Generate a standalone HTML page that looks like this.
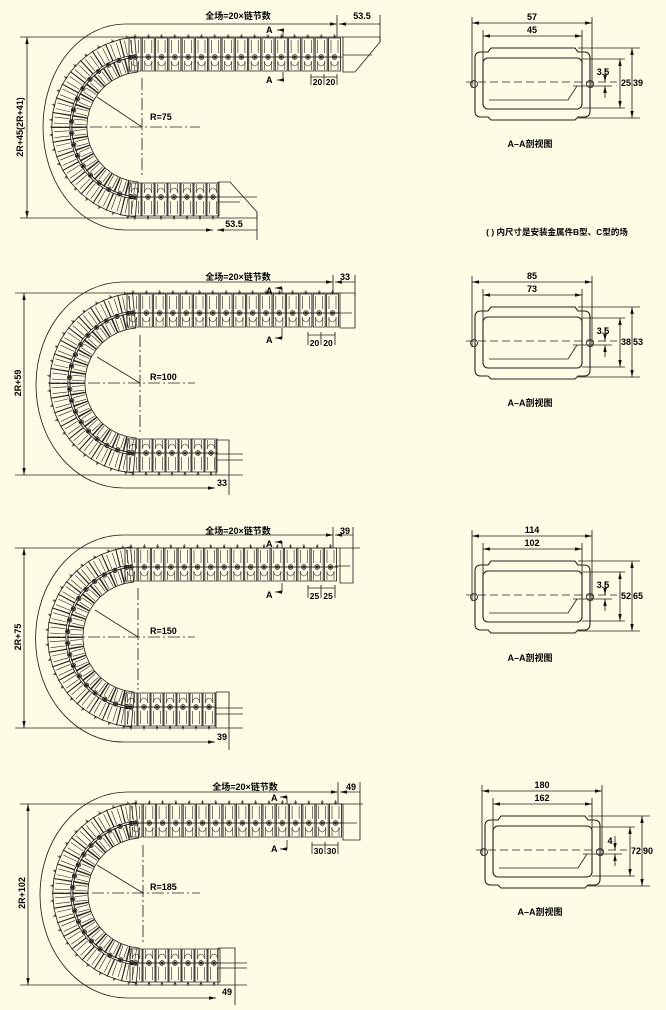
<!DOCTYPE html>
<html><head><meta charset="utf-8"><style>
html,body{margin:0;padding:0;background:#FFFCE5;}
svg{display:block;}
text{font-family:"Liberation Sans","Noto Sans CJK SC",sans-serif;font-size:9px;fill:#000;font-weight:bold;}
</style></head><body>
<svg width="666" height="1010" viewBox="0 0 666 1010" xmlns="http://www.w3.org/2000/svg" xmlns:xlink="http://www.w3.org/1999/xlink">
<defs>
<marker id="a" viewBox="0 0 8 4" refX="8" refY="2" markerWidth="7" markerHeight="3.5" orient="auto-start-reverse" markerUnits="userSpaceOnUse"><path d="M0,0 L8,2 L0,4z" fill="#111"/></marker>
<g id="lk">
 <path d="M-6,1 H6 V34 H-6 Z"/>
 <path d="M-3.5,3 V16 M3.5,3 V16 M-3.5,24 V33 M3.5,24 V33" stroke-width="0.6"/>
 <path d="M-6,20 H6" stroke-width="0.6"/>
 <circle cx="0" cy="20" r="2.3"/>
 <circle cx="0" cy="20" r="1" fill="#222"/>
 <path d="M0,1 V-3 M-1.2,-1.5 L0,1 L1.2,-1.5" stroke-width="0.6"/>
 <path d="M-4,25 Q0,33 4,25" stroke-width="0.6"/>
</g>
<g id="ck">
 <path d="M-7.5,0 H7.5 L6.2,18 H-6.2 Z"/>
 <path d="M-6.2,20 H6.2 L4.8,35 H-4.8 Z"/>
 <path d="M-3,2 L-2.6,17 M3,2 L2.6,17 M-2.4,22 V34 M2.4,22 V34" stroke-width="0.6"/>
 <circle cx="0" cy="19.5" r="2.2"/>
 <circle cx="0" cy="19.5" r="1" fill="#222"/>
 <path d="M0,0 V-3 M-1.2,-1.5 L0,0 L1.2,-1.5" stroke-width="0.6"/>
</g>
<g id="ch" fill="none" stroke="#222" stroke-width="0.85">
 <use href="#lk" transform="translate(-7,-90)"/>
 <use href="#lk" transform="translate(6.3,-90)"/>
 <use href="#lk" transform="translate(19.6,-90)"/>
 <use href="#lk" transform="translate(32.9,-90)"/>
 <use href="#lk" transform="translate(46.2,-90)"/>
 <use href="#lk" transform="translate(59.5,-90)"/>
 <use href="#lk" transform="translate(72.8,-90)"/>
 <use href="#lk" transform="translate(86.1,-90)"/>
 <use href="#lk" transform="translate(99.4,-90)"/>
 <use href="#lk" transform="translate(112.7,-90)"/>
 <use href="#lk" transform="translate(126,-90)"/>
 <use href="#lk" transform="translate(139.3,-90)"/>
 <use href="#lk" transform="translate(152.6,-90)"/>
 <use href="#lk" transform="translate(165.9,-90)"/>
 <use href="#lk" transform="translate(179.2,-90)"/>
 <use href="#lk" transform="translate(192.5,-90)"/>
 <use href="#lk" transform="translate(-7,90) scale(1,-1)"/>
 <use href="#lk" transform="translate(6,90) scale(1,-1)"/>
 <use href="#lk" transform="translate(19,90) scale(1,-1)"/>
 <use href="#lk" transform="translate(32,90) scale(1,-1)"/>
 <use href="#lk" transform="translate(45,90) scale(1,-1)"/>
 <use href="#lk" transform="translate(58,90) scale(1,-1)"/>
 <use href="#lk" transform="translate(71,90) scale(1,-1)"/>
 <use href="#ck" transform="rotate(-9.5) translate(0,-90)"/>
 <use href="#ck" transform="rotate(-19) translate(0,-90)"/>
 <use href="#ck" transform="rotate(-28.5) translate(0,-90)"/>
 <use href="#ck" transform="rotate(-38) translate(0,-90)"/>
 <use href="#ck" transform="rotate(-47.5) translate(0,-90)"/>
 <use href="#ck" transform="rotate(-57) translate(0,-90)"/>
 <use href="#ck" transform="rotate(-66.5) translate(0,-90)"/>
 <use href="#ck" transform="rotate(-76) translate(0,-90)"/>
 <use href="#ck" transform="rotate(-85.5) translate(0,-90)"/>
 <use href="#ck" transform="rotate(-95) translate(0,-90)"/>
 <use href="#ck" transform="rotate(-104.5) translate(0,-90)"/>
 <use href="#ck" transform="rotate(-114) translate(0,-90)"/>
 <use href="#ck" transform="rotate(-123.5) translate(0,-90)"/>
 <use href="#ck" transform="rotate(-133) translate(0,-90)"/>
 <use href="#ck" transform="rotate(-142.5) translate(0,-90)"/>
 <use href="#ck" transform="rotate(-152) translate(0,-90)"/>
 <use href="#ck" transform="rotate(-161.5) translate(0,-90)"/>
 <use href="#ck" transform="rotate(-171) translate(0,-90)"/>
 <path d="M-10,-70 H200 M-10,70 H78"/>
 <path d="M0,-70 A70,70 0 0 0 0,70" stroke-width="0.6"/>
</g>
<g id="xs" fill="none" stroke="#222" stroke-width="0.85">
 <path d="M472,17 V88 M592,17 V88 M483,30 V62 M582,30 V62"/>
 <path d="M472,23 H592" marker-start="url(#a)" marker-end="url(#a)"/>
 <path d="M483,36 H582" marker-start="url(#a)" marker-end="url(#a)"/>
 <path d="M481,52 H488 L491,48 H575 L578,52 H584 Q590,52 590,58 V111 Q590,117 584,117 H578 L575,120 H491 L488,117 H481 Q475,117 475,111 V58 Q475,52 481,52 Z" stroke-width="1.1"/>
 <rect x="483" y="58" width="99" height="51" rx="5" stroke-width="1.1"/>
 <path d="M489,100 H568 L577,86"/>
 <circle cx="474" cy="84" r="3.5"/><circle cx="590" cy="84" r="3.5"/>
 <path d="M466,82 H617" stroke-dasharray="8 4"/>
 <path d="M578,48 H640 M578,118 H640 M582,59 H625 M582,108 H625"/>
 <path d="M620,59 V108" marker-start="url(#a)" marker-end="url(#a)"/>
 <path d="M632,48 V118" marker-start="url(#a)" marker-end="url(#a)"/>
 <path d="M605,68 V82" marker-end="url(#a)"/>
 <path d="M605,98 V86" marker-end="url(#a)"/>
 <path d="M573,86 H612"/>
</g>
</defs>

<!-- ===== Section 1 ===== -->
<use href="#ch" transform="translate(142,127)"/>
<g fill="none" stroke="#222" stroke-width="0.85">
 <path d="M125,24 A82,103 0 0 0 125,230"/>
 <path d="M125,24 H337" marker-end="url(#a)"/>
 <path d="M339,24 H380" marker-start="url(#a)"/>
 <path d="M337,15 V37 M380,15 V42"/>
 <path d="M20,37 H380 M20,218 H257"/>
 <path d="M27,37 V218" marker-start="url(#a)" marker-end="url(#a)"/>
 <path d="M142,78 V178 M50,127 H200" stroke-dasharray="12 3 2 3"/>
 <path d="M142,127 L97,97"/>
 <path d="M283,37 V30 H277" marker-end="url(#a)"/>
 <path d="M283,72 V80 H277" marker-end="url(#a)"/>
 <path d="M311,74 V85 M324,74 V85 M337,74 V85"/>
 <path d="M311,77 H337"/>
 <path d="M343,37 V72 H355 L380,42 V37 M343,55 H372"/>
 <path d="M218,182 H230 L257,212 V218 M218,182 V218 M218,197 H257 M218,202 H240"/>
 <path d="M125,230 H213" marker-end="url(#a)"/>
 <path d="M217,230 H257" marker-start="url(#a)"/>
 <path d="M257,212 V240"/>
</g>
<text x="238" y="19" text-anchor="middle">全场=20×链节数</text>
<text x="362" y="19" text-anchor="middle">53.5</text>
<text transform="translate(23,127) rotate(-90)" text-anchor="middle">2R+45(2R+41)</text>
<text x="150" y="120">R=75</text>
<text x="266" y="33">A</text>
<text x="266" y="83">A</text>
<text x="317.5" y="85" text-anchor="middle" style="font-size:8.5px">20</text>
<text x="330.5" y="85" text-anchor="middle" style="font-size:8.5px">20</text>
<text x="234" y="227" text-anchor="middle">53.5</text>

<use href="#xs"/>
<text x="532" y="20" text-anchor="middle">57</text>
<text x="532" y="33" text-anchor="middle">45</text>
<text x="603" y="75" text-anchor="middle">3.5</text>
<text x="621" y="86">25</text>
<text x="633" y="86">39</text>
<text x="530" y="147" text-anchor="middle">A–A剖视图</text>
<text x="557" y="235" text-anchor="middle" style="font-size:8.5px">( ) 内尺寸是安装金属件B型、C型的场</text>

<!-- ===== Section 2 ===== -->
<use href="#ch" transform="translate(140,383)"/>
<g fill="none" stroke="#222" stroke-width="0.85">
 <path d="M123,282 A87,103 0 0 0 123,488"/>
 <path d="M123,282 H333" marker-end="url(#a)"/>
 <path d="M335,282 H355" marker-start="url(#a)"/>
 <path d="M333,275 V293 M355,275 V296"/>
 <path d="M15,293 H355 M15,475 H243"/>
 <path d="M24,293 V475" marker-start="url(#a)" marker-end="url(#a)"/>
 <path d="M140,335 V433 M48,383 H195" stroke-dasharray="12 3 2 3"/>
 <path d="M140,383 L97,357"/>
 <path d="M282,293 V288 H275" marker-end="url(#a)"/>
 <path d="M282,328 V338 H275" marker-end="url(#a)"/>
 <path d="M308,332 V345 M321,332 V345 M335,332 V345"/>
 <path d="M308,335 H335"/>
 <path d="M340,293 V328 H355 V293 M335,313 H352"/>
 <path d="M216,440 H229 V475 M216,440 V475 M216,454 H243 M216,460 H243"/>
 <path d="M123,488 H215" marker-end="url(#a)"/>
 <path d="M229,475 V495"/>
</g>
<text x="238" y="280" text-anchor="middle">全场=20×链节数</text>
<text x="345" y="280" text-anchor="middle">33</text>
<text transform="translate(21,383) rotate(-90)" text-anchor="middle">2R+59</text>
<text x="150" y="380">R=100</text>
<text x="266" y="294">A</text>
<text x="266" y="343">A</text>
<text x="314.5" y="346" text-anchor="middle" style="font-size:8.5px">20</text>
<text x="328" y="346" text-anchor="middle" style="font-size:8.5px">20</text>
<text x="222" y="486" text-anchor="middle">33</text>

<use href="#xs" transform="translate(0,259)"/>
<text x="532" y="279" text-anchor="middle">85</text>
<text x="532" y="292" text-anchor="middle">73</text>
<text x="603" y="334" text-anchor="middle">3.5</text>
<text x="621" y="345">38</text>
<text x="633" y="345">53</text>
<text x="530" y="406" text-anchor="middle">A–A剖视图</text>

<!-- ===== Section 3 ===== -->
<use href="#ch" transform="translate(138,637)"/>
<g fill="none" stroke="#222" stroke-width="0.85">
 <path d="M123,535 A87,103 0 0 0 123,742"/>
 <path d="M123,535 H333" marker-end="url(#a)"/>
 <path d="M335,535 H353" marker-start="url(#a)"/>
 <path d="M333,527 V548 M353,527 V550"/>
 <path d="M15,548 H360 M15,728 H243"/>
 <path d="M24,548 V728" marker-start="url(#a)" marker-end="url(#a)"/>
 <path d="M138,588 V690 M48,637 H195" stroke-dasharray="12 3 2 3"/>
 <path d="M138,637 L95,610"/>
 <path d="M282,548 V542 H275" marker-end="url(#a)"/>
 <path d="M282,583 V592 H275" marker-end="url(#a)"/>
 <path d="M308,585 V598 M321,585 V598 M335,585 V598"/>
 <path d="M308,588 H335"/>
 <path d="M340,548 V583 H353 V548 M335,566 H350"/>
 <path d="M216,692 H229 V728 M216,692 V728 M216,708 H243 M216,714 H243"/>
 <path d="M123,742 H215" marker-end="url(#a)"/>
 <path d="M229,728 V750"/>
</g>
<text x="238" y="534" text-anchor="middle">全场=20×链节数</text>
<text x="345" y="534" text-anchor="middle">39</text>
<text transform="translate(21,637) rotate(-90)" text-anchor="middle">2R+75</text>
<text x="150" y="634">R=150</text>
<text x="266" y="547">A</text>
<text x="266" y="598">A</text>
<text x="314.5" y="599" text-anchor="middle" style="font-size:8.5px">25</text>
<text x="328" y="599" text-anchor="middle" style="font-size:8.5px">25</text>
<text x="222" y="740" text-anchor="middle">39</text>

<use href="#xs" transform="translate(0,513)"/>
<text x="532" y="533" text-anchor="middle">114</text>
<text x="532" y="546" text-anchor="middle">102</text>
<text x="603" y="588" text-anchor="middle">3.5</text>
<text x="621" y="599">52</text>
<text x="633" y="599">65</text>
<text x="530" y="661" text-anchor="middle">A–A剖视图</text>

<!-- ===== Section 4 ===== -->
<use href="#ch" transform="translate(143,893)"/>
<g fill="none" stroke="#222" stroke-width="0.85">
 <path d="M127,792 A87,103 0 0 0 127,998"/>
 <path d="M127,792 H338" marker-end="url(#a)"/>
 <path d="M340,792 H360" marker-start="url(#a)"/>
 <path d="M338,782 V804 M360,782 V806"/>
 <path d="M20,804 H363 M20,985 H247"/>
 <path d="M28,804 V985" marker-start="url(#a)" marker-end="url(#a)"/>
 <path d="M143,845 V943 M52,893 H200" stroke-dasharray="12 3 2 3"/>
 <path d="M143,893 L97,865"/>
 <path d="M287,804 V797 H280" marker-end="url(#a)"/>
 <path d="M287,840 V849 H280" marker-end="url(#a)"/>
 <path d="M312,842 V854 M325,842 V854 M338,842 V854"/>
 <path d="M312,845 H338"/>
 <path d="M343,804 V840 H360 V804 M338,823 H357"/>
 <path d="M218,948 H235 V985 M218,948 V985 M218,963 H247 M218,968 H247"/>
 <path d="M127,998 H216" marker-end="url(#a)"/>
 <path d="M235,985 V1005"/>
</g>
<text x="245" y="790" text-anchor="middle">全场=20×链节数</text>
<text x="351" y="790" text-anchor="middle">49</text>
<text transform="translate(25,893) rotate(-90)" text-anchor="middle">2R+102</text>
<text x="150" y="890">R=185</text>
<text x="271" y="801">A</text>
<text x="271" y="852">A</text>
<text x="318.5" y="854" text-anchor="middle" style="font-size:8.5px">30</text>
<text x="331.5" y="854" text-anchor="middle" style="font-size:8.5px">30</text>
<text x="227" y="995" text-anchor="middle">49</text>

<use href="#xs" transform="translate(10,768)"/>
<text x="542" y="788" text-anchor="middle">180</text>
<text x="542" y="801" text-anchor="middle">162</text>
<text x="610" y="844" text-anchor="middle">4</text>
<text x="631" y="854">72</text>
<text x="643" y="854">90</text>
<text x="540" y="915" text-anchor="middle">A–A剖视图</text>
</svg>
</body></html>
